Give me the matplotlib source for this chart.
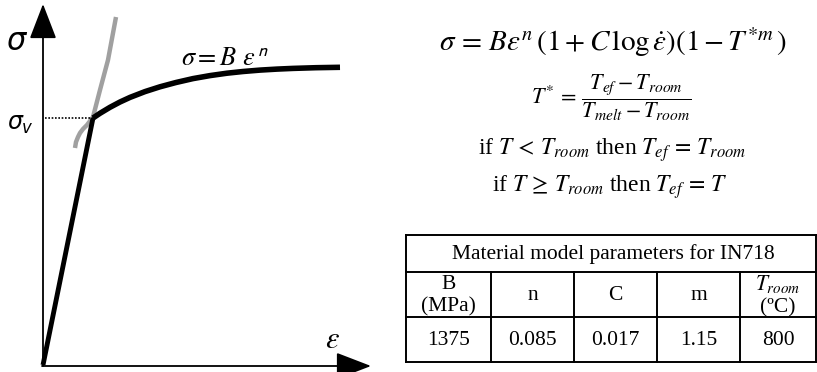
import matplotlib
matplotlib.use("Agg")
import matplotlib.pyplot as plt

plt.rcParams['mathtext.fontset'] = 'stix'
plt.rcParams['font.family'] = ['Liberation Serif', 'DejaVu Sans']

# ---- data (pixel space of the schematic) ----
elastic_x = [43, 93]
elastic_y = [365, 118]
hard_x = [93, 100, 110, 120, 130, 145, 160, 176, 193, 210, 227, 243, 260, 277, 293, 316, 340]
hard_y = [118, 113.3, 107.3, 102.0, 97.4, 91.6, 86.8, 82.5, 78.6, 75.6, 73.2, 71.5, 70.1, 69.1, 68.4, 67.7, 67.3]
gray_x = [116, 108, 100, 93, 90, 87, 83, 80, 78, 76, 75]
gray_y = [17, 60, 90, 117, 121, 125, 129, 133, 137, 142, 148]

table_title = "Material model parameters for IN718"
col_labels = ["B\n(MPa)", "n", "C", "m", "$T_{room}$\n(ºC)"]
values = ["1375", "0.085", "0.017", "1.15", "800"]

fig = plt.figure(figsize=(8.17, 3.72), dpi=100)
ax = fig.add_axes([0, 0, 1, 1])
ax.set_xlim(0, 817)
ax.set_ylim(372, 0)
ax.axis('off')

# axes arrows
ax.annotate('', xy=(43, 4), xytext=(43, 366),
            arrowprops=dict(arrowstyle='-|>,head_length=1.3,head_width=0.5', lw=1.3, color='k',
                            shrinkA=0, shrinkB=0, mutation_scale=17))
ax.annotate('', xy=(371, 366), xytext=(42, 366),
            arrowprops=dict(arrowstyle='-|>,head_length=1.3,head_width=0.5', lw=1.3, color='k',
                            shrinkA=0, shrinkB=0, mutation_scale=17))

# curves
ax.plot(gray_x, gray_y, color='#a0a0a0', lw=3.2, solid_capstyle='butt', solid_joinstyle='round')
ax.plot(elastic_x, elastic_y, color='k', lw=3.5, solid_capstyle='butt')
ax.plot(hard_x, hard_y, color='k', lw=4.0, solid_capstyle='butt', solid_joinstyle='round')
ax.plot([45, elastic_x[1]], [elastic_y[1], elastic_y[1]], color='k', lw=1.2, ls=(0, (1, 1)))

# left labels
ax.text(17, 42, r'$\sigma$', fontsize=22, math_fontfamily='dejavusans', ha='center', va='center')
ax.text(7, 125, r'$\sigma_{v}$', fontsize=17, math_fontfamily='dejavusans', ha='left', va='center')
ax.text(181, 60, r'$\sigma = B\ \varepsilon^{\,\mathsf{n}}$', fontsize=19, ha='left', va='center')
ax.text(332, 340, r'$\varepsilon$', fontsize=22, ha='center', va='center')

# formulas
ax.text(613, 42, r'$\sigma\, =\, B\varepsilon^{n}\,(1 + C\,\log\dot{\varepsilon})(1 - T^{*m}\,)$',
        fontsize=21, ha='center', va='center')
ax.text(611, 98, r'$T^{*}\, =\, \dfrac{T_{ef} - T_{room}}{T_{melt} - T_{room}}$',
        fontsize=16, ha='center', va='center')
ax.text(612, 150, r'if $T\, <\, T_{room}$ then $T_{ef}\, =\, T_{room}$', fontsize=17, ha='center', va='center')
ax.text(610, 187, r'if $T\, \geq\, T_{room}$ then $T_{ef}\, =\, T$', fontsize=17, ha='center', va='center')

# table
left, right = 406, 816
top, r1, r2, bot = 235, 272, 317, 362
cols = [left, 491, 574, 657, 740, right]
lw = 1.4
for yy in [top, r1, r2, bot]:
    ax.plot([left, right], [yy, yy], color='k', lw=lw)
ax.plot([left, left], [top, bot], color='k', lw=lw)
ax.plot([right, right], [top, bot], color='k', lw=lw)
for xx in cols[1:-1]:
    ax.plot([xx, xx], [r1, bot], color='k', lw=lw)
ax.text((left + right) / 2 + 2, (top + r1) / 2 + 1, table_title, fontsize=15.5, ha='center', va='center')
for i, (lab, val) in enumerate(zip(col_labels, values)):
    cx = (cols[i] + cols[i + 1]) / 2
    ax.text(cx, (r1 + r2) / 2 + 1, lab, fontsize=15.5, ha='center', va='center', linespacing=1.2)
    ax.text(cx, (r2 + bot) / 2 + 1, val, fontsize=15.5, ha='center', va='center')

fig.savefig('out.png', dpi=100)
